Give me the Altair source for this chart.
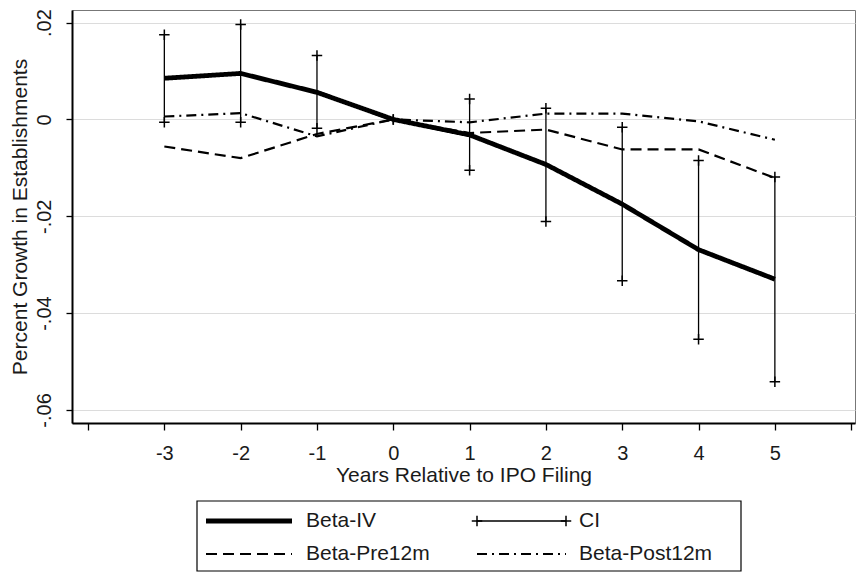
import altair as alt
import pandas as pd

# ---- data ----
years = [-3, -2, -1, 0, 1, 2, 3, 4, 5]
beta_iv = [0.0085, 0.0095, 0.0056, 0.0, -0.0032, -0.0093, -0.0175, -0.0269, -0.0330]
ci_hi = [0.0175, 0.0196, 0.0132, 0.0, 0.0042, 0.0023, -0.0016, -0.0085, -0.0119]
ci_lo = [-0.0006, -0.0006, -0.0018, 0.0, -0.0105, -0.0211, -0.0333, -0.0454, -0.0542]
beta_pre = [-0.0056, -0.0080, -0.0030, 0.0, -0.0028, -0.0021, -0.0062, -0.0062, -0.0121]
beta_post = [0.0006, 0.0013, -0.0035, 0.0, -0.0006, 0.0012, 0.0012, -0.0004, -0.0042]
series_names = ["Beta-IV", "CI", "Beta-Pre12m", "Beta-Post12m"]
x_ticks = [-4, -3, -2, -1, 0, 1, 2, 3, 4, 5, 6]
y_ticks = [0.02, 0.0, -0.02, -0.04, -0.06]

FONT = "Liberation Sans"
TXT = "#1a1a1a"
PLUS = "M-1,0H1M0,-1V1"

lines_df = pd.DataFrame({
    "year": years * 3,
    "value": beta_iv + beta_pre + beta_post,
    "series": ["Beta-IV"] * len(years) + ["Beta-Pre12m"] * len(years) + ["Beta-Post12m"] * len(years),
})
ci_df = pd.DataFrame({"year": years, "lo": ci_lo, "hi": ci_hi})

dash_scale = alt.Scale(type="ordinal", domain=series_names, range=[[1, 0], [1, 0], [11, 6], [10, 5, 2, 5]])
width_scale = alt.Scale(type="ordinal", domain=series_names, range=[4.8, 1.3, 2.2, 2.2])

xs = alt.Scale(domain=[-4.21, 6.05], nice=False, zero=False)
ys = alt.Scale(domain=[-0.0627, 0.0226], nice=False, zero=False)

xaxis = alt.Axis(
    values=x_ticks,
    labelExpr="(datum.value < -3.5 || datum.value > 5.5) ? '' : (datum.value < 0 ? '-' + abs(datum.value) : '' + datum.value)",
    title="Years Relative to IPO Filing", grid=False,
    domainColor="black", domainWidth=2, tickColor="black", tickWidth=1.3, tickSize=7,
    labelFontSize=20, labelBaseline="alphabetic", labelPadding=29, labelFlush=False, labelOverlap=False,
    titleFontSize=21, titleBaseline="alphabetic", titleY=58,
)
yaxis = alt.Axis(
    values=y_ticks,
    labelExpr="datum.value == 0 ? '0' : (datum.value < 0 ? '-' : '') + replace(format(abs(datum.value), '.2f'), '0.', '.')",
    title="Percent Growth in Establishments", grid=True, gridColor="#dcdcdc", gridWidth=1,
    domainColor="black", domainWidth=2, tickColor="black", tickWidth=1.3, tickSize=6,
    labelAngle=270, labelAlign="center", labelBaseline="alphabetic", labelPadding=16,
    labelFontSize=20, labelOverlap=False,
    titleAngle=270, titleAlign="center", titleBaseline="alphabetic", titleX=-46, titleFontSize=21,
)

ci_rule = alt.Chart(ci_df).mark_rule(color="black", strokeWidth=1.3).encode(
    x=alt.X("year:Q", scale=xs, axis=xaxis),
    y=alt.Y("lo:Q", scale=ys, axis=yaxis),
    y2="hi:Q",
)
lines = alt.Chart(lines_df).mark_line(color="black").encode(
    x=alt.X("year:Q", scale=xs),
    y=alt.Y("value:Q", scale=ys),
    detail="series:N",
    strokeDash=alt.StrokeDash("series:N", scale=dash_scale, legend=None),
    strokeWidth=alt.StrokeWidth("series:N", scale=width_scale, legend=None),
)
ci_ends = alt.Chart(ci_df).transform_fold(["lo", "hi"], as_=["end", "v"]).mark_point(
    shape=PLUS, size=110, filled=False, color="black", strokeWidth=1.5, opacity=1
).encode(x=alt.X("year:Q", scale=xs), y=alt.Y("v:Q", scale=ys))

plot = alt.layer(ci_rule, lines, ci_ends).properties(
    width=783, height=413, view=alt.ViewBackground(stroke="#777777", strokeWidth=1)
)

# ---- legend panel (layout positions built here, not in the data arrays) ----
leg_cols = [0, 1, 0, 1]
leg_rows = [0, 0, 1, 1]
sym_x0 = [134, 405]
sym_x1 = [220, 494]
lab_x = [234, 507]
row_y = [20, 53]
LW, LH = 783, 70
leg_df = pd.DataFrame({
    "series": series_names,
    "x0": [sym_x0[c] for c in leg_cols],
    "x1": [sym_x1[c] for c in leg_cols],
    "lx": [lab_x[c] for c in leg_cols],
    "y": [row_y[r] for r in leg_rows],
})
ci_leg = leg_df[leg_df.series == "CI"].melt(id_vars=["series", "y"], value_vars=["x0", "x1"], value_name="px")

lxs = alt.Scale(domain=[0, LW], nice=False, zero=False)
lys = alt.Scale(domain=[LH, 0], nice=False, zero=False)

box = alt.Chart(pd.DataFrame({"a": [0]})).mark_rect(fill="white", stroke="black", strokeWidth=1.2).encode(
    x=alt.value(125), x2=alt.value(669), y=alt.value(0), y2=alt.value(LH)
)
leg_lines = alt.Chart(leg_df).mark_rule(color="black").encode(
    x=alt.X("x0:Q", scale=lxs, axis=None),
    x2="x1:Q",
    y=alt.Y("y:Q", scale=lys, axis=None),
    strokeDash=alt.StrokeDash("series:N", scale=dash_scale, legend=None),
    strokeWidth=alt.StrokeWidth("series:N", scale=width_scale, legend=None),
)
leg_plus = alt.Chart(ci_leg).mark_point(
    shape=PLUS, size=110, filled=False, color="black", strokeWidth=1.5, opacity=1
).encode(x=alt.X("px:Q", scale=lxs, axis=None), y=alt.Y("y:Q", scale=lys, axis=None))
leg_text = alt.Chart(leg_df).mark_text(align="left", baseline="middle", fontSize=21, font=FONT, color=TXT).encode(
    x=alt.X("lx:Q", scale=lxs, axis=None), y=alt.Y("y:Q", scale=lys, axis=None), text="series:N"
)
legend = alt.layer(box, leg_lines, leg_plus, leg_text).properties(
    width=LW, height=LH, view=alt.ViewBackground(stroke="transparent")
)

chart = alt.vconcat(plot, legend, spacing=13).properties(padding=0).configure(font=FONT).configure_axis(
    labelColor=TXT, titleColor=TXT, titleFontWeight="normal", labelFont=FONT, titleFont=FONT
)

chart.save("out.html", embed_options={"renderer": "svg", "actions": False})
